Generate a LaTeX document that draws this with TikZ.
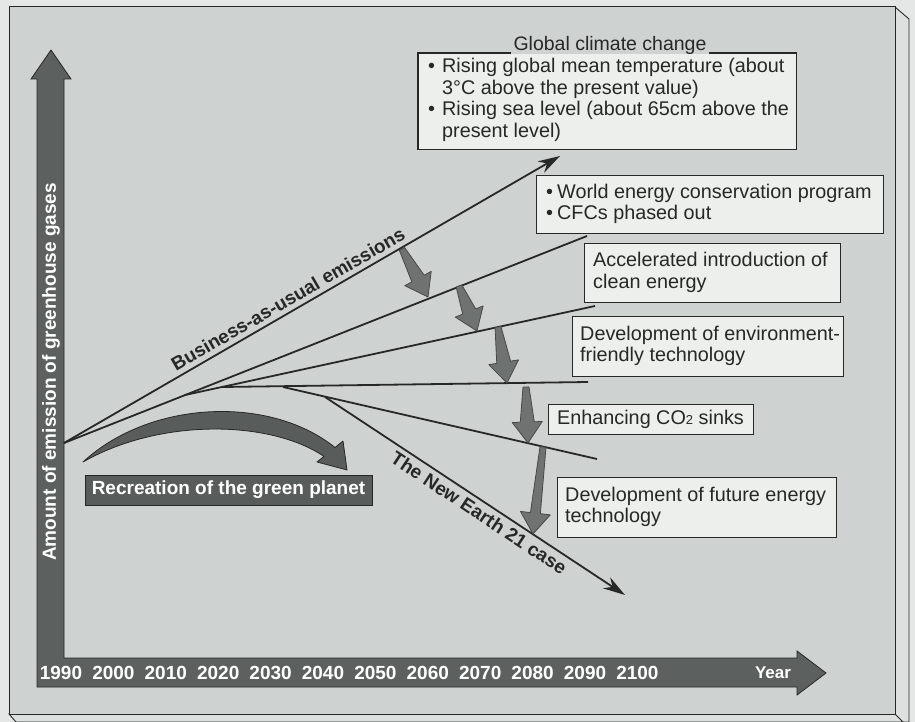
\documentclass[tikz,border=0pt]{standalone}
\usepackage{fontspec}
\setmainfont{Liberation Sans}
\usetikzlibrary{calc,arrows.meta}
\definecolor{pagebg}{RGB}{228,231,229}
\definecolor{facebg}{RGB}{206,210,208}
\definecolor{sidebg}{RGB}{220,224,222}
\definecolor{boxbg}{RGB}{237,239,237}
\definecolor{axisfill}{RGB}{92,97,95}
\definecolor{ink}{RGB}{38,40,39}
\definecolor{arrowfill}{RGB}{110,115,113}
\definecolor{recfill}{RGB}{88,93,91}
\newcommand{\bul}{\makebox[11pt][l]{\textbullet}}
\newcommand{\bigbul}{\makebox[14pt][l]{\textbullet}}
\newcommand{\blockdn}[4]{%
  \coordinate (ta) at #1;
  \coordinate (tb) at #2;
  \coordinate (th) at ($(tb)!21pt!(ta)$);
  \filldraw[downarrow] ($(ta)!#3!90:(tb)$) -- ($(th)!#4!90:(tb)$) -- ($(th)!15pt!90:(tb)$) -- (tb) -- ($(th)!15pt!-90:(tb)$) -- ($(th)!#4!-90:(tb)$) -- ($(ta)!#3!-90:(tb)$) -- cycle;}
\tikzset{
  trend/.style={draw=ink, line width=1.8pt},
  boxline/.style={draw=ink, line width=1.1pt},
  infobox/.style={draw=ink, line width=1.1pt, fill=boxbg, anchor=north west, inner sep=0pt},
  boxtext/.style={anchor=west, align=left, inner sep=0pt, text=ink, font=\fontsize{19.8}{21.5}\selectfont},
  downarrow/.style={fill=arrowfill, draw=ink!85, line width=0.8pt, line join=round},
  yearlbl/.style={text=white, inner sep=0pt, font=\bfseries\fontsize{19}{19}\selectfont},
  slopelbl/.style={text=ink, inner sep=0pt, font=\bfseries\fontsize{19}{19}\selectfont},
  bigtip/.style={-{Stealth[length=22pt,width=13pt]}},
}
\begin{document}
\begin{tikzpicture}[x=1pt,y=-1pt]
\useasboundingbox (0,0) rectangle (915,722);
\fill[pagebg] (0,0) rectangle (915,722);
% 3D frame
\filldraw[fill=sidebg, draw=ink, line width=0.9pt] (895,7) -- (909,19) -- (909,722) -- (895,722) -- cycle;
\filldraw[fill=sidebg, draw=ink, line width=0.9pt] (9,714) -- (895,714) -- (903,722) -- (16,722) -- cycle;
\filldraw[fill=facebg, draw=ink, line width=1pt] (9,7) rectangle (895,714);
% axes
\filldraw[fill=axisfill, draw=ink, line width=0.8pt, line join=miter]
  (37,79) -- (31,79) -- (51,50) -- (71,79) -- (64,79) -- (64,658) -- (797,658) -- (797,651)
  -- (826,673) -- (797,695) -- (797,687) -- (37,687) -- cycle;
\node[rotate=90, yearlbl] (ylab) at (51,372) {Amount of emission of greenhouse gases};
\foreach \yr [count=\i from 0] in {1990,2000,...,2100}
  \node[yearlbl] (yr\i) at (61+52.4*\i,673) {\yr};
\node[yearlbl, font=\bfseries\fontsize{17}{17}\selectfont] (yearlab) at (773,673) {Year};
% trend lines
\coordinate (O) at (64,443);
\coordinate (L1end) at (560,156);
\coordinate (L2end) at (587,236);
\coordinate (Bp) at (185,395);
\coordinate (L3end) at (595,306);
\coordinate (Cp) at (222,387);
\coordinate (L4end) at (588,382);
\coordinate (Dp) at (283,387);
\coordinate (L5end) at (597,459);
\coordinate (Ep) at (325,397);
\coordinate (L6end) at (625,595);
\draw[trend, bigtip] (O) -- (L1end);
\draw[trend] (O) -- (L2end);
\draw[trend] (Bp) -- (L3end);
\draw[trend] (Cp) -- (L4end);
\draw[trend] (Dp) -- (L5end);
\draw[trend, bigtip] (Ep) -- (L6end);
\node[slopelbl, rotate=30] (bau) at (288,299) {Business-as-usual emissions};
\node[slopelbl, rotate=-33.4] (ne21) at (479,513) {The New Earth 21 case};
% reduction arrows
\blockdn{(402,249)}{(428,297)}{3pt}{7pt}
\blockdn{(459,286)}{(477,331)}{3pt}{7pt}
\blockdn{(498,327)}{(507,383)}{3pt}{7pt}
\blockdn{(526,387)}{(528,443)}{3pt}{7pt}
\blockdn{(543,447)}{(533,534)}{3pt}{5pt}
% curved arrow
\filldraw[fill=recfill, draw=ink, line width=0.8pt, line join=round]
  (83,462) .. controls (150,400) and (270,395) .. (335,447.5) -- (343,441) -- (347,470)
  -- (317,462) -- (324,456.4) .. controls (270,420) and (160,418) .. (83,462) -- cycle;
\node[fill=recfill, draw=ink, line width=0.8pt, minimum width=287pt, minimum height=30pt, inner sep=0pt,
  text=white, font=\bfseries\fontsize{19}{19}\selectfont] (rec) at (228.5,490) {Recreation of the green planet};
% boxes
\node[infobox, draw=none, minimum width=377pt, minimum height=95pt] (b1) at (418,53) {};
\node[text=ink, inner xsep=2pt, inner ysep=0pt, anchor=base, font=\fontsize{19.5}{19.5}\selectfont] (b1title) at (610,51) {Global climate change};
\draw[boxline] (b1title.west |- b1.north) -- (b1.north west) -- (b1.south west) -- (b1.south east) -- (b1.north east) -- (b1title.east |- b1.north);
\node[boxtext, font=\fontsize{19.8}{21.7}\selectfont] (b1t) at (428,100) {\bigbul Rising global mean temperature (about\\\hspace*{14pt}3°C above the present value)\\\bigbul Rising sea level (about 65cm above the\\\hspace*{14pt}present level)};
\node[infobox, minimum width=347pt, minimum height=58pt] (b2) at (536,175) {};
\node[boxtext] (b2t) at (546,204) {\bul World energy conservation program\\\bul CFCs phased out};
\node[infobox, minimum width=256pt, minimum height=59pt] (b3) at (584,243) {};
\node[boxtext] (b3t) at (593,272.5) {Accelerated introduction of\\clean energy};
\node[infobox, minimum width=271pt, minimum height=60pt] (b4) at (572,316) {};
\node[boxtext] (b4t) at (580,346) {Development of environment-\\friendly technology};
\node[infobox, minimum width=205pt, minimum height=30pt] (b5) at (548,404) {};
\node[boxtext] (b5t) at (557,419) {Enhancing CO{\fontsize{13}{13}\selectfont 2} sinks};
\node[infobox, minimum width=279pt, minimum height=60pt] (b6) at (557,477) {};
\node[boxtext] (b6t) at (565,507) {Development of future energy\\technology};
\end{tikzpicture}
\end{document}
